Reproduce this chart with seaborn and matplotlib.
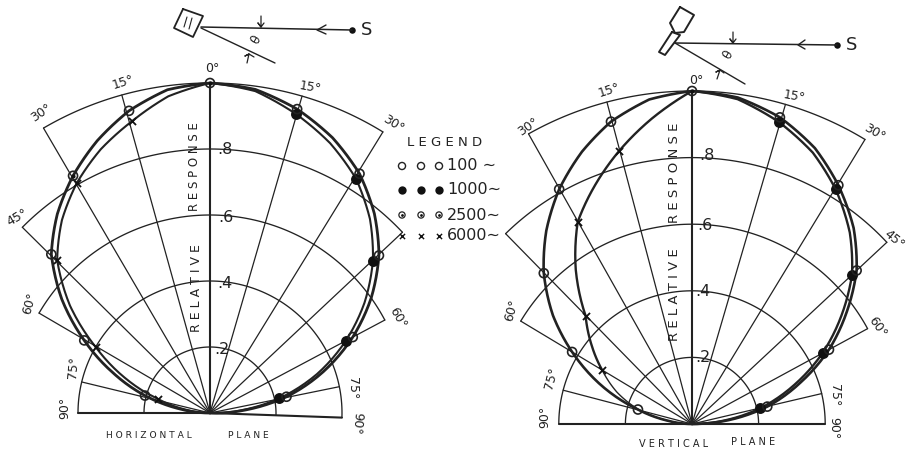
import numpy as np
import matplotlib
matplotlib.use("Agg")
import matplotlib.pyplot as plt
import seaborn as sns

# angles as drawn (the sketch is slightly stretched on its right hand side)
h_angles = [-90, -82.5, -75, -67.5, -60, -52.5, -45, -37.5, -30, -22.5, -15, -7.5, 0,
            8, 16, 24, 32, 39.5, 47, 54.5, 62, 70, 78, 85, 92]
v_angles = [-90, -82.5, -75, -67, -59, -52, -44.5, -37, -29.5, -22, -15, -7.5, 0,
            8, 16, 24, 31.5, 39.5, 47, 54, 61.5, 69, 77, 84, 90]

# response
h_outer = [0, .09, .204, .318, .44, .566, .68, .76, .83, .893, .948, .988, 1,
           .99, .958, .913, .855, .783, .70, .60, .49, .365, .237, .11, 0]
h_inner = [0, .07, .163, .28, .40, .535, .655, .737, .806, .865, .915, .968, 1,
           .985, .943, .895, .836, .762, .675, .575, .466, .345, .215, .095, 0]
v_outer = [0, .07, .168, .295, .42, .53, .635, .727, .81, .882, .94, .983, 1,
           .99, .958, .907, .841, .763, .676, .575, .468, .35, .232, .11, 0]
v_inner = [0, .07, .165, .245, .315, .382, .456, .58, .697, .775, .848, .925, 1,
           .985, .944, .892, .826, .745, .657, .555, .446, .33, .21, .095, 0]

# grid of the sketch: spoke angle and how far it runs
h_spokes = [-90, -76.4, -59.7, -45.3, -30.3, -15.5, 0, 16.2, 31.6, 46.8, 62, 78.5, 92]
v_spokes = [-90, -75.3, -59, -44.4, -29.4, -14.8, 0, 16.3, 31.3, 47, 61.5, 76.8, 90]
spoke_len = [.4, .4, .6, .8, 1, 1, 1, 1, 1, .8, .6, .4, .4]
ring_values = [.2, .4, .6, .8, 1.0]
ring_end_spoke = [0, 0, 2, 3, 4]  # which spoke each ring stops on

legend_labels = ["100 ∼", "1000∼", "2500∼", "6000∼"]

INK = "#222222"
W, H = 914, 450
RMAX = 1.1

sns.set_theme(style="white")
plt.rcParams["font.family"] = ["DejaVu Sans"]

fig = plt.figure(figsize=(W / 100, H / 100), dpi=100, facecolor="white")


def polar_axes(cx, cy, radius):
    half = radius * RMAX
    ax = fig.add_axes([(cx - half) / W, (H - cy - half) / H, 2 * half / W, 2 * half / H],
                      projection="polar")
    ax.set_theta_zero_location("N")
    ax.set_theta_direction(-1)
    ax.patch.set_alpha(0)
    return ax


def draw_grid(ax, spokes):
    for ang, length in zip(spokes, spoke_len):
        heavy = abs(ang) >= 90 or ang == 0
        ax.plot(np.radians([ang, ang]), [0, length], color=INK,
                lw=1.5 if heavy else 0.9, zorder=1)
    for val, i in zip(ring_values, ring_end_spoke):
        a = np.radians(np.linspace(spokes[i], spokes[-1 - i], 120))
        ax.plot(a, np.full(a.size, val), color=INK, lw=0.95, zorder=1)


def curve(ax, angles, values, lw):
    sns.lineplot(x=np.radians(angles), y=values, ax=ax, sort=False, estimator=None,
                 color=INK, linewidth=lw, legend=False, zorder=2)
    # follow the polar sweep between the readings instead of straight chords
    ax.lines[-1].get_path()._interpolation_steps = 12


def points(ax, angles, values, kind):
    th = np.radians(angles)
    if kind == "open":
        sns.scatterplot(x=th, y=values, ax=ax, s=42, facecolor="none", edgecolor=INK,
                        linewidth=1.2, legend=False, zorder=4, clip_on=False)
    elif kind == "filled":
        sns.scatterplot(x=th, y=values, ax=ax, s=62, color="#111111", linewidth=0,
                        legend=False, zorder=3, clip_on=False)
    elif kind == "x":
        sns.scatterplot(x=th, y=values, ax=ax, s=26, marker="x", color="#111111",
                        linewidth=1.3, legend=False, zorder=3, clip_on=False)
    else:
        sns.scatterplot(x=th, y=values, ax=ax, s=9, color="#111111", linewidth=0,
                        legend=False, zorder=5, clip_on=False)


def finish(ax):
    ax.set_ylim(0, RMAX)
    ax.set_xlabel("")
    ax.set_ylabel("")
    ax.axis("off")


# horizontal plane
ax1 = polar_axes(210, 413, 330)
draw_grid(ax1, h_spokes)
curve(ax1, h_angles, h_outer, 2.0)
curve(ax1, h_angles, h_inner, 1.5)
points(ax1, h_angles[2:-2:2], h_outer[2:-2:2], "open")
points(ax1, h_angles[2:12:2], h_inner[2:12:2], "x")
points(ax1, h_angles[14:-2:2], h_inner[14:-2:2], "filled")
points(ax1, [-30, 0], [.83, 1.0], "dot")
finish(ax1)

# vertical plane
ax2 = polar_axes(692, 424, 333)
draw_grid(ax2, v_spokes)
curve(ax2, v_angles, v_outer, 1.9)
curve(ax2, v_angles[4:], v_inner[4:], 1.7)
curve(ax2, v_angles[:5], v_inner[:5], 1.0)
points(ax2, v_angles[2:-2:2], v_outer[2:-2:2], "open")
points(ax2, v_angles[4:12:2], v_inner[4:12:2], "x")
points(ax2, v_angles[14:-2:2], v_inner[14:-2:2], "filled")
points(ax2, [0], [1.0], "dot")
finish(ax2)

# everything that is not data goes on a pixel sized overlay
top = fig.add_axes([0, 0, 1, 1], zorder=10)
top.set_xlim(0, W)
top.set_ylim(H, 0)
top.axis("off")


def label(x, y, s, rot=0, size=8.5):
    top.text(x, y, s, rotation=rot, fontsize=size, color=INK, ha="center", va="center",
             rotation_mode="anchor")


def stroke(xs, ys, lw=1.0):
    top.plot(xs, ys, color=INK, lw=lw, solid_capstyle="round")


angle_labels = [
    (212, 68, "0°", 0), (123, 82, "15°", 18), (310, 87, "15°", -10), (41, 113, "30°", 35),
    (393, 124, "30°", -32), (17, 217, "45°", 30), (30, 303, "60°", 75), (398, 318, "60°", -60),
    (73, 368, "75°", 85), (352, 388, "75°", -90), (65, 408, "90°", 90), (357, 423, "90°", -95),
    (696, 80, "0°", 0), (609, 90, "15°", 18), (794, 96, "15°", -10), (528, 127, "30°", 35),
    (874, 133, "30°", -30), (894, 239, "45°", -40), (512, 310, "60°", 75), (877, 327, "60°", -55),
    (552, 378, "75°", 75), (834, 395, "75°", -90), (545, 417, "90°", 90), (834, 428, "90°", -90),
]
for x, y, s, rot in angle_labels:
    label(x, y, s, rot, 9)

for x, y, s in [(225, 150, ".8"), (226, 217, ".6"), (225, 283, ".4"), (222, 349, ".2"),
                (707, 156, ".8"), (705, 225, ".6"), (703, 292, ".4"), (703, 358, ".2")]:
    label(x, y, s, 0, 11.5)

label(194, 167, "R E S P O N S E", 90, 8.5)
label(197, 288, "R E L A T I V E", 90, 9)
label(674, 173, "R E S P O N S E", 90, 9.5)
label(675, 295, "R E L A T I V E", 90, 9.5)

label(149, 435, "H O R I Z O N T A L", 0, 6.6)
label(248, 435, "P L A N E", 0, 6.6)
label(674, 444, "V E R T I C A L", 0, 7)
label(753, 442, "P L A N E", 0, 7)

# legend
label(445, 142, "L E G E N D", 0, 9.5)
key_x = [402, 421, 439]
key_y = [166, 190, 215, 236]
sns.scatterplot(x=key_x, y=[key_y[0]] * 3, ax=top, s=26, facecolor="none", edgecolor=INK,
                linewidth=1.0, legend=False)
sns.scatterplot(x=key_x, y=[key_y[1]] * 3, ax=top, s=36, color="#111111", linewidth=0, legend=False)
sns.scatterplot(x=key_x, y=[key_y[2]] * 3, ax=top, s=20, facecolor="none", edgecolor=INK,
                linewidth=0.9, legend=False)
sns.scatterplot(x=key_x, y=[key_y[2]] * 3, ax=top, s=4, color="#111111", linewidth=0, legend=False)
sns.scatterplot(x=key_x, y=[key_y[3]] * 3, ax=top, s=14, marker="x", color="#111111",
                linewidth=1.0, legend=False)
top.set_xlim(0, W)
top.set_ylim(H, 0)
top.set_xlabel("")
top.set_ylabel("")
for y, s in zip(key_y, legend_labels):
    top.text(447, y, s, fontsize=11.5, color=INK, ha="left", va="center")

# microphone and source, left
stroke([183, 203, 193, 174, 183], [9, 16, 37, 28, 9], 1.3)
stroke([187, 184], [17, 27], 0.8)
stroke([192, 189], [18, 29], 0.8)
stroke([201, 352], [27, 30], 1.1)
stroke([201, 275], [28, 63], 1.0)
stroke([326, 317, 326], [25, 30, 34], 1.0)
stroke([261, 261, 258, 261, 264], [16, 27, 23, 27, 23], 0.9)
stroke([247, 249, 245, 249, 254], [63, 54, 56, 54, 57], 0.9)
top.scatter([352], [30], s=22, color="#111111", linewidth=0)
label(367, 30, "S", 0, 13)
label(256, 40, "θ", 60, 9)

# microphone and source, right
stroke([680, 694, 684, 675, 670, 680], [7, 15, 32, 33, 23, 7], 1.4)
stroke([672, 680, 665, 659, 672], [32, 35, 55, 52, 32], 1.4)
stroke([675, 837], [43, 45], 1.1)
stroke([675, 745], [43, 84], 1.0)
stroke([805, 798, 805], [40, 45, 49], 1.0)
stroke([733, 733, 730, 733, 736], [32, 43, 39, 43, 39], 0.9)
stroke([717, 720, 716, 720, 724], [79, 70, 72, 70, 73], 0.9)
top.scatter([837], [45], s=22, color="#111111", linewidth=0)
label(852, 45, "S", 0, 13)
label(728, 55, "θ", 60, 9)

fig.savefig("out.png", dpi=100, facecolor="white")
